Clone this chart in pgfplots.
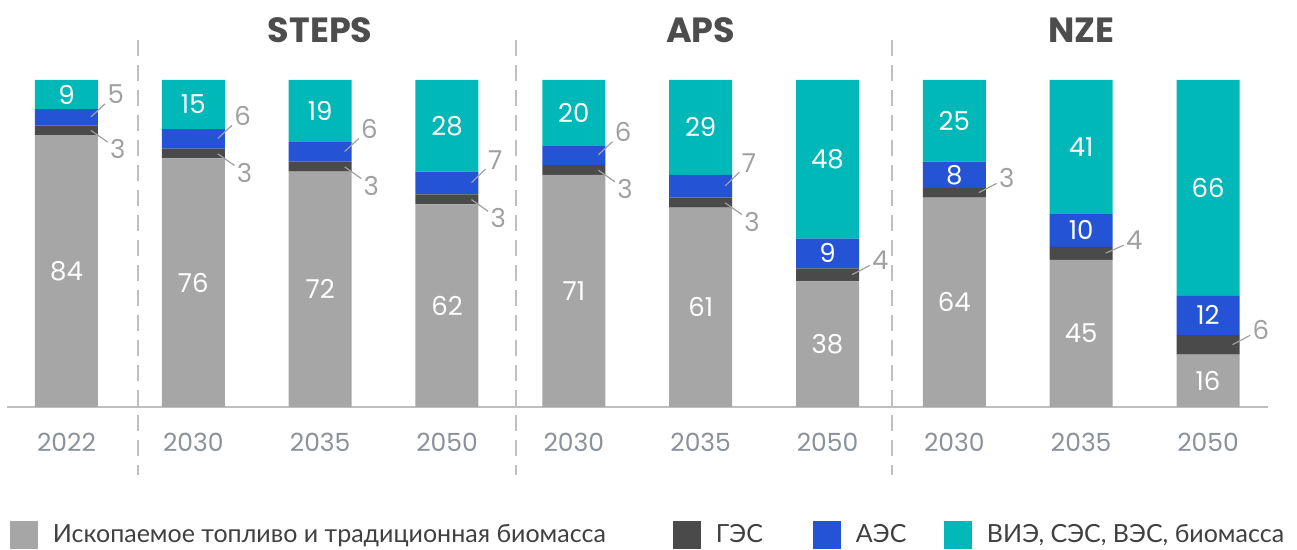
\documentclass[border=0pt]{standalone}
\usepackage{pgfplots}
\pgfplotsset{compat=1.18}
\usepackage{pgfplotstable}
\usepackage{fontspec}
\setmainfont{Lato}
\newfontfamily\numfont{Poppins}
\definecolor{fos}{HTML}{A5A6A5}
\definecolor{ges}{HTML}{4A4A4A}
\definecolor{aes}{HTML}{2453D5}
\definecolor{vie}{HTML}{00B8B7}
\definecolor{lab}{HTML}{A0A0A0}
\definecolor{tickc}{HTML}{8B9199}
\definecolor{ttl}{HTML}{4D4D4D}
\definecolor{legc}{HTML}{404040}
\definecolor{rulec}{HTML}{BFBFBF}

% shares in % (rounded, as labelled); bars are drawn as shares of each column's total
\pgfplotstableread{
x fos ges aes vie gang aang
0 84 3 5 9 -22 38
1 76 3 6 15 -22 38
2 72 3 6 19 -22 38
3 62 3 7 28 -22 38
4 71 3 6 20 -22 38
5 61 3 7 29 -22 38
6 38 4 9 48 10 0
7 64 3 8 25 8 0
8 45 4 10 41 3 0
9 16 6 12 66 10 0
}\data
\newcommand{\T}{(\thisrow{fos}+\thisrow{ges}+\thisrow{aes}+\thisrow{vie})}

\tikzset{sepline/.style={rulec, line width=1.3pt, dash pattern=on 8pt off 4.5pt}}
\pgfplotsset{
  base/.style={at={(3.75pt,71.5pt)}, anchor=south west,
    scale only axis, width=630.25pt, height=163.5pt,
    xmin=-0.465, xmax=9.473, ymin=0, ymax=100, clip=false},
  sq/.style={legend image code/.code={\fill[##1] (0pt,-7pt) rectangle (14pt,7pt);}},
  barst/.style={draw=none, fill=#1, sq},
  inlab/.style={only marks, mark=none, point meta=explicit,
    nodes near coords, nodes near coords align={center},
    every node near coord/.append style={anchor=center, text=white,
      font=\numfont\fontsize{13}{13}\selectfont}},
  outlab/.style={only marks, mark=none, point meta=explicit,
    visualization depends on={\thisrow{#1}\as\ang},
    nodes near coords={},
    every node near coord/.append style={anchor=center, inner sep=0pt, minimum size=0pt,
      pin={[pin distance=9pt, inner sep=1pt, text=lab,
            font=\numfont\fontsize{13}{13}\selectfont,
            pin edge={draw=lab, line width=0.6pt}]\ang:\pgfmathprintnumber{\pgfplotspointmeta}}}},
}

\begin{document}
\begin{tikzpicture}
\path[use as bounding box] (0,0) rectangle (648.5pt,275pt);
% bars
\begin{axis}[base,
  ybar stacked, bar width=31.5pt,
  axis x line*=bottom, axis y line=none,
  x axis line style={draw=rulec, line width=0.8pt},
  xtick={0,...,9},
  xticklabels={2022,2030,2035,2050,2030,2035,2050,2030,2035,2050},
  major tick length=0pt,
  xticklabel style={anchor=center, yshift=-17.5pt, text=tickc,
    font=\numfont\fontsize{12.5}{12.5}\selectfont},
  ytick=\empty,
  legend columns=4,
  legend style={at={(axis description cs:0,0)}, anchor=west, xshift=1.25pt, yshift=-64pt,
    draw=none, fill=none, inner sep=0pt, outer sep=0pt,
    font=\fontsize{12.5}{12.5}\selectfont, text=legc,
    cells={anchor=west}, nodes={inner sep=0pt},
    /tikz/every odd column/.append style={column sep=7.5pt},
    /tikz/every even column/.append style={column sep=0pt}},
]
\addplot[barst=fos] table[x=x, y expr=100*\thisrow{fos}/\T]{\data};
\addlegendentry{\makebox[310pt][l]{Ископаемое топливо и традиционная биомасса}}
\addplot[barst=ges] table[x=x, y expr=100*\thisrow{ges}/\T]{\data};
\addlegendentry{\makebox[48.5pt][l]{ГЭС}}
\addplot[barst=aes] table[x=x, y expr=100*\thisrow{aes}/\T]{\data};
\addlegendentry{\makebox[44pt][l]{АЭС}}
\addplot[barst=vie] table[x=x, y expr=100*\thisrow{vie}/\T]{\data};
\addlegendentry{ВИЭ, СЭС, ВЭС, биомасса}

% separators and group titles
\draw[sepline] (axis cs:0.564,112.2) -- (axis cs:0.564,-20.8);
\draw[sepline] (axis cs:3.544,112.2) -- (axis cs:3.544,-20.8);
\draw[sepline] (axis cs:6.509,112.2) -- (axis cs:6.509,-20.8);
\node[font=\numfont\bfseries\fontsize{17.5}{17.5}\selectfont, text=ttl] at (axis cs:2,115.3) {STEPS};
\node[font=\numfont\bfseries\fontsize{17.5}{17.5}\selectfont, text=ttl] at (axis cs:5,115.3) {APS};
\node[font=\numfont\bfseries\fontsize{17.5}{17.5}\selectfont, text=ttl] at (axis cs:8,115.3) {NZE};
\end{axis}
% value labels
\begin{axis}[base, hide axis, /pgf/number format/assume math mode=true]
\addplot[inlab] table[x=x, y expr=100*(\thisrow{fos}/2)/\T, meta=fos]{\data};
\addplot[inlab] table[x=x, y expr=100*(\thisrow{fos}+\thisrow{ges}+\thisrow{aes}+\thisrow{vie}/2)/\T, meta=vie]{\data};
\addplot[inlab, restrict expr to domain={\thisrow{aes}}{7.5:100}]
  table[x=x, y expr=100*(\thisrow{fos}+\thisrow{ges}+\thisrow{aes}/2)/\T, meta=aes]{\data};
\addplot[outlab=gang] table[x expr=\thisrow{x}+0.19, y expr=100*(\thisrow{fos}+\thisrow{ges}/2)/\T, meta=ges]{\data};
\addplot[outlab=aang, restrict expr to domain={\thisrow{aes}}{0:7.5}]
  table[x expr=\thisrow{x}+0.19, y expr=100*(\thisrow{fos}+\thisrow{ges}+\thisrow{aes}/2)/\T, meta=aes]{\data};
\end{axis}
\end{tikzpicture}
\end{document}
